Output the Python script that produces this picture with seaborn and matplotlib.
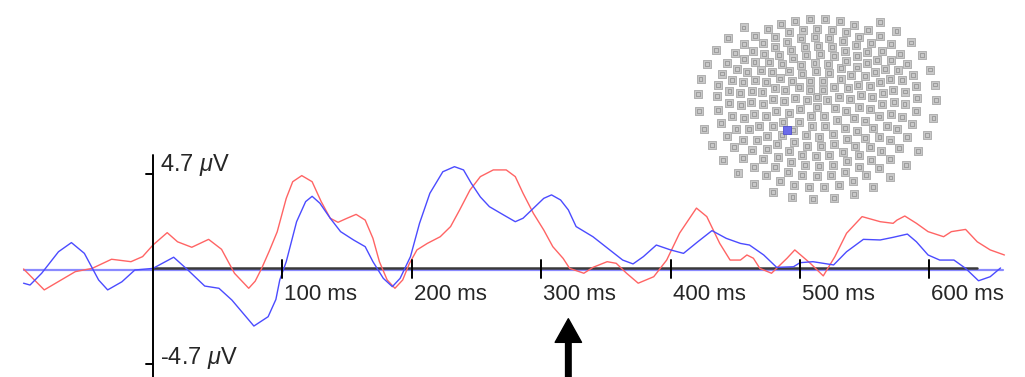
import numpy as np
import pandas as pd
import seaborn as sns
import matplotlib.pyplot as plt

# ERP waveforms, time in ms, amplitude in microvolts
red_t = [-100, -84, -60, -47, -32, -17, -8, 0,
         11, 19, 30, 43, 53, 63, 74, 79,
         84, 90, 96, 103, 108, 115, 123, 130,
         137, 143, 150, 157, 164, 170, 175, 181,
         187, 193, 198, 204, 212, 222, 230, 237,
         245, 253, 263, 273, 280, 286, 294, 302,
         309, 317, 322, 333, 340, 351, 358, 366,
         375, 387, 397, 407, 420, 428, 438, 446,
         454, 459, 464, 469, 478, 490, 496, 508,
         518, 527, 536, 548, 562, 572, 575, 581,
         590, 599, 611, 617, 628, 637, 647, 658]
red_v = [0, -1.03, -0.13, 0.03, 0.48, 0.36, 0.61, 1.18,
         1.79, 1.34, 1.07, 1.46, 0.97, -0.21, -0.95, -0.6,
         0.03, 0.9, 1.83, 3.48, 4.30, 4.60, 4.30, 3.32,
         2.50, 2.30, 2.50, 2.69, 2.41, 1.51, 0.36, -0.54,
         -0.95, -0.54, 0.25, 0.94, 1.26, 1.59, 2.09, 2.91,
         3.89, 4.55, 4.88, 4.88, 4.55, 3.73, 2.74, 1.92,
         1.10, 0.52, 0.03, -0.21, 0.08, 0.36, 0.28, -0.21,
         -0.70, -0.38, 0.44, 1.77, 3.00, 2.58, 1.26, 0.44,
         0.44, 0.69, 0.53, 0.03, -0.21, 0.53, 0.94, 0.28,
         -0.34, 0.61, 1.76, 2.58, 2.33, 2.25, 2.41, 2.61,
         2.25, 1.84, 1.59, 1.84, 1.95, 1.34, 0.94, 0.69]

blue_t = [-100, -95, -86, -73, -63, -53, -42, -35,
          -24, -14, 0, 16, 27, 40, 51, 61,
          78, 89, 95, 98, 103, 111, 118, 123,
          129, 137, 145, 155, 164, 170, 178, 185,
          191, 199, 206, 214, 224, 233, 240, 246,
          253, 260, 271, 280, 286, 294, 302, 308,
          315, 321, 327, 340, 353, 363, 371, 379,
          389, 400, 410, 421, 432, 443, 454, 461,
          472, 482, 495, 500, 510, 526, 536, 549,
          562, 572, 583, 590, 599, 608, 619, 628,
          638, 647, 655]
blue_v = [-0.70, -0.79, -0.21, 0.85, 1.30, 0.77, -0.54, -1.03,
          -0.63, -0.05, 0.03, 0.58, -0.05, -0.84, -0.95, -1.53,
          -2.81, -2.35, -1.5, -0.54, 0.36, 2.33, 3.32, 3.58,
          3.24, 2.50, 1.84, 1.43, 1.10, 0.36, -0.46, -0.87,
          -0.46, 0.61, 2.25, 3.73, 4.79, 5.04, 4.88, 4.22,
          3.55, 3.07, 2.66, 2.33, 2.50, 2.99, 3.48, 3.65,
          3.40, 2.91, 2.09, 1.59, 0.94, 0.44, 0.25, 0.61,
          1.18, 0.94, 0.77, 1.34, 1.89, 1.51, 1.26, 1.18,
          0.69, 0.08, 0.11, 0.31, 0.36, 0.20, 0.85, 1.46,
          1.43, 1.56, 1.72, 1.34, 0.69, 0.44, 0.44, 0.03,
          -0.58, -0.38, 0.05]

tick_ms = [100, 200, 300, 400, 500, 600]
tick_labels = ['100 ms', '200 ms', '300 ms', '400 ms', '500 ms', '600 ms']
y_scale = 4.7
arrow_ms = 321

sns.set_style('white')
plt.rcParams['font.family'] = ['Liberation Sans', 'DejaVu Sans']
plt.rcParams['mathtext.fontset'] = 'custom'
plt.rcParams['mathtext.rm'] = 'Liberation Sans'
plt.rcParams['mathtext.it'] = 'Liberation Sans:italic'

fig = plt.figure(figsize=(10.25, 3.77), dpi=100)
ax = fig.add_axes([0, 0, 1, 1])
ax.set_xlim(-118.2, 673.9)
ax.set_ylim(-5.32, 13.25)
ax.axis('off')

# baselines
ax.plot([-100, 657], [-0.03, -0.03], color='#8a8aff', lw=1.6, zorder=1)
ax.plot([0, 637], [0.04, 0.04], color='#3a3a3a', lw=1.8, zorder=2)

wave = pd.concat([
    pd.DataFrame({'t': red_t, 'v': red_v, 'cond': 'red'}),
    pd.DataFrame({'t': blue_t, 'v': blue_v, 'cond': 'blue'}),
])
sns.lineplot(data=wave, x='t', y='v', hue='cond', palette={'red': '#ff6464', 'blue': '#4b4bff'},
             sort=False, estimator=None, lw=1.0, legend=False, ax=ax, zorder=3)

# vertical axis with scale ticks
ax.plot([0, 0], [-5.4, 5.6], color='black', lw=1.4, zorder=4)
for yv in [y_scale, -y_scale]:
    ax.plot([-5.5, 0], [yv, yv], color='black', lw=1.4, zorder=4)
ax.text(5.5, 5.1, f'{y_scale} $\\mu$V', fontsize=17, va='center', ha='left')
ax.text(5.5, -4.38, f'-{y_scale} $\\mu$V', fontsize=17, va='center', ha='left')

for t, lab in zip(tick_ms, tick_labels):
    ax.plot([t, t], [-0.44, 0.44], color='black', lw=1.4, zorder=4)
    ax.text(t + 1.5, -1.25, lab, fontsize=16, va='center', ha='left')

ax.annotate('', xy=(arrow_ms, -2.45), xytext=(arrow_ms, -5.5),
            arrowprops=dict(facecolor='black', edgecolor='black', width=4, headwidth=19,
                            headlength=17, shrink=0))

# electrode map inset (pixel space)
ins = fig.add_axes([0, 0, 1, 1])
ins.set_xlim(0, 1025)
ins.set_ylim(377, 0)
ins.axis('off')
ins.patch.set_alpha(0)
cx, cy = 817, 97
ring_r = [0, 9, 18, 27, 36, 45, 54, 63, 72, 82, 93]
ring_n = [1, 5, 10, 15, 20, 25, 30, 34, 38, 42, 36]
xs, ys = [], []
for k, (r, n) in enumerate(zip(ring_r, ring_n)):
    for j in range(n):
        th = 2 * np.pi * j / n + 0.3 * k
        if k == len(ring_r) - 1 and abs(np.sin(th) + 1) < 0.12:
            continue
        sx = 1.28 if k == len(ring_r) - 1 else 1.22
        sy = 1.1 if np.sin(th) > 0 else 0.95
        xs.append(cx + r * sx * np.cos(th))
        ys.append(cy + r * sy * np.sin(th))
ins.scatter(xs, ys, marker='s', s=34, facecolor='#c8c8c8', edgecolor='#a8a8a8', lw=0.6)
ins.scatter(xs, ys, marker='s', s=8, facecolor='none', edgecolor='#8c8c8c', lw=0.5)
ins.scatter([787], [130], marker='s', s=34, facecolor='#6b6bea', edgecolor='#5050d0', lw=0.6)

plt.savefig('out.png', dpi=100)
